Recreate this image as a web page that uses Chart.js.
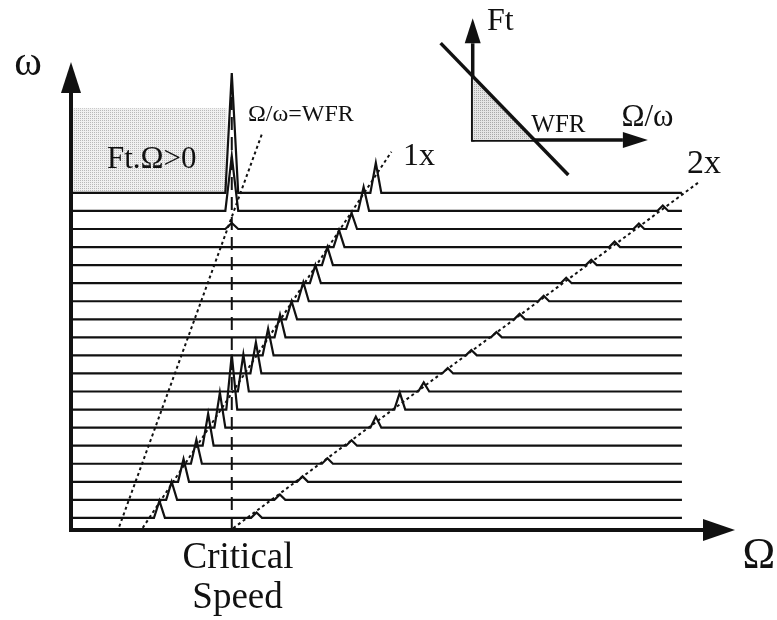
<!DOCTYPE html>
<html>
<head>
<meta charset="utf-8">
<script src="https://cdn.jsdelivr.net/npm/chart.js@4.4.0/dist/chart.umd.min.js"></script>
<style>
  body { margin: 0; background: #fff; }
  #wrap { position: relative; width: 777px; height: 620px; }
  #main { position: absolute; left: 0; top: 0; }
  #inset { position: absolute; left: 400px; top: 0; }
</style>
</head>
<body>
<div id="wrap">
  <canvas id="main" width="777" height="620"></canvas>
  <canvas id="inset" width="280" height="200"></canvas>
</div>
<script>
// rows of the cascade (omega steps), bottom to top
var rows = [1, 2, 3, 4, 5, 6, 7, 8, 9, 10, 11, 12, 13, 14, 15, 16, 17, 18, 19];
// 1x peak position (Omega, critical speed = 100) and amplitude, one per row
var peak1x = [55, 62.6, 70, 78, 85.3, 92.6, 100, 107.2, 115, 122.6, 130, 137.2, 144.5, 152, 159.5, 166.7, 174.5, 182, 189.6];
var amp1x  = [0.94, 1.0, 1.26, 1.33, 1.77, 1.94, 3.05, 2.05, 1.72, 1.48, 1.26, 1.0, 1.05, 1.0, 1.0, 0.94, 0.89, 1.33, 1.66];
// 2x peaks (last row has none inside the range)
var peak2x = [115.4, 129.9, 144, 159.5, 174.5, 189.6, 204.5, 219.4, 234.3, 249, 264.6, 279, 294, 308, 323.6, 338.1, 353.2, 368.1, null];
var amp2x  = [0.3, 0.3, 0.3, 0.3, 0.3, 0.61, 0.94, 0.5, 0.3, 0.3, 0.3, 0.3, 0.3, 0.3, 0.3, 0.3, 0.3, 0.3, 0];
// spike at the critical speed for the top rows (instability zone)
var criticalSpeed = 100;
var ampCrit = [0, 0, 0, 0, 0, 0, 0, 0, 0, 0, 0, 0, 0, 0, 0, 0, 0.33, 3.05, 6.64];
var omegaEnd = 380;

// guide lines [x0, y0, x1, y1]
var line1x  = [44.6, 0.45, 199.3, 21.28];
var lineWFR = [30.0, 0.52, 118.9, 22.3];
var line2x  = [100.9, 0.43, 390.9, 19.62];
var critTop = 24.7;
// shaded Ft.Omega>0 zone
var zoneX = [0.4, 96.8];
var zoneY = [19, 23.69];

// inset: Ft against Omega/omega
var insetRatio = [-0.52, 1.55];
var insetFt = [1.52, -0.55];
var wfr = 1;

function stipple(dark, light) {
  var c = document.createElement('canvas');
  c.width = 2; c.height = 2;
  var g = c.getContext('2d');
  g.fillStyle = light; g.fillRect(0, 0, 2, 2);
  g.fillStyle = dark; g.fillRect(0, 0, 1, 1);
  return g.createPattern(c, 'repeat');
}

function rowPoints(i) {
  var y = rows[i];
  var pk = [{ x: peak1x[i], a: amp1x[i], w: 3.4 }];
  if (peak2x[i] != null) pk.push({ x: peak2x[i], a: amp2x[i], w: 3.4 });
  if (ampCrit[i] > 0) pk.push({ x: criticalSpeed, a: ampCrit[i], w: 4 });
  pk.sort(function (a, b) { return a.x - b.x; });
  var pts = [{ x: 0, y: y }];
  pk.forEach(function (p) {
    pts.push({ x: p.x - p.w, y: y });
    pts.push({ x: p.x, y: y + p.a });
    pts.push({ x: p.x + p.w, y: y });
  });
  pts.push({ x: omegaEnd, y: y });
  return pts;
}

var ink = '#111';
var datasets = [];
rows.forEach(function (r, i) {
  datasets.push({ data: rowPoints(i), borderColor: ink, borderWidth: 2.2, order: 1 });
});
function guide(l, dash) {
  return { data: [{ x: l[0], y: l[1] }, { x: l[2], y: l[3] }], borderColor: ink, borderWidth: 2, borderDash: dash, order: 2 };
}
datasets.push(guide(line1x, [3, 3]));
datasets.push(guide(lineWFR, [3, 3]));
datasets.push(guide(line2x, [3, 3]));
datasets.push(guide([criticalSpeed, 0.33, criticalSpeed, critTop], [13, 7]));
datasets.push({
  data: [{ x: zoneX[0], y: zoneY[1] }, { x: zoneX[1], y: zoneY[1] }],
  borderWidth: 0, borderColor: 'rgba(0,0,0,0)',
  backgroundColor: stipple('#b8b8b8', '#f0f0f0'),
  fill: { value: zoneY[0] }, order: 5
});

var labels = [
  { t: '\u03c9', x: -26.7, y: 25.53, s: 42, a: 'center' },
  { t: '\u03a9', x: 427.9, y: -1.77, s: 44, a: 'center' },
  { t: 'Critical', x: 103.9, y: -1.77, s: 37, a: 'center' },
  { t: 'Speed', x: 103.6, y: -3.98, s: 37, a: 'center' },
  { t: 'Ft.\u03a9>0', x: 50.2, y: 20.38, s: 31, a: 'center' },
  { t: '\u03a9/\u03c9=WFR', x: 110.1, y: 23.0, s: 24, a: 'left' },
  { t: '1x', x: 206.5, y: 20.55, s: 32, a: 'left' },
  { t: '2x', x: 383.2, y: 20.1, s: 34, a: 'left' }
];

function arrow(ctx, x0, y0, x1, y1, w, len, half) {
  var ang = Math.atan2(y1 - y0, x1 - x0);
  var bx = x1 - Math.cos(ang) * len, by = y1 - Math.sin(ang) * len;
  ctx.beginPath();
  ctx.lineWidth = w;
  ctx.moveTo(x0, y0);
  ctx.lineTo(bx, by);
  ctx.stroke();
  ctx.beginPath();
  ctx.moveTo(x1, y1);
  ctx.lineTo(bx + Math.sin(ang) * half, by - Math.cos(ang) * half);
  ctx.lineTo(bx - Math.sin(ang) * half, by + Math.cos(ang) * half);
  ctx.closePath();
  ctx.fill();
}

var mainDeco = {
  id: 'mainDeco',
  afterDatasetsDraw: function (chart) {
    var ctx = chart.ctx, xs = chart.scales.x, ys = chart.scales.y;
    ctx.save();
    ctx.strokeStyle = ink; ctx.fillStyle = ink;
    var ox = xs.getPixelForValue(xs.min), oy = ys.getPixelForValue(ys.min);
    arrow(ctx, ox, oy + 2, ox, ys.getPixelForValue(ys.max), 4, 31, 10);
    arrow(ctx, ox - 2, oy, xs.getPixelForValue(xs.max), oy, 4, 32, 11);
    ctx.textBaseline = 'alphabetic';
    labels.forEach(function (l) {
      ctx.font = l.s + 'px "Liberation Serif", "DejaVu Serif", serif';
      ctx.textAlign = l.a;
      ctx.fillText(l.t, xs.getPixelForValue(l.x), ys.getPixelForValue(l.y));
    });
    ctx.restore();
  }
};

new Chart(document.getElementById('main'), {
  type: 'line',
  data: { datasets: datasets },
  options: {
    responsive: false, animation: false,
    parsing: false,
    elements: { point: { radius: 0 }, line: { tension: 0, fill: false } },
    layout: { padding: { left: 71, right: 42, top: 62, bottom: 90 } },
    scales: {
      x: { type: 'linear', display: false, min: 0, max: 413 },
      y: { type: 'linear', display: false, min: 0.33, max: 26.25 }
    },
    plugins: { legend: { display: false }, tooltip: { enabled: false } }
  },
  plugins: [mainDeco]
});

var insetLabels = [
  { t: 'Ft', x: 0.23, y: 1.73, s: 32 },
  { t: '\u03a9/\u03c9', x: 2.41, y: 0.22, s: 31 },
  { t: 'WFR', x: 0.95, y: 0.13, s: 25 }
];

var insetDeco = {
  id: 'insetDeco',
  beforeDatasetsDraw: function (chart) {
    var ctx = chart.ctx, xs = chart.scales.x, ys = chart.scales.y;
    ctx.save();
    ctx.strokeStyle = ink; ctx.fillStyle = ink;
    var ox = xs.getPixelForValue(0), oy = ys.getPixelForValue(0);
    arrow(ctx, ox, oy + 1.5, ox, ys.getPixelForValue(ys.max), 3.5, 25, 8);
    arrow(ctx, ox - 1.5, oy, xs.getPixelForValue(xs.max), oy, 3.5, 25, 8);
    ctx.restore();
  },
  afterDatasetsDraw: function (chart) {
    var ctx = chart.ctx, xs = chart.scales.x, ys = chart.scales.y;
    ctx.save();
    ctx.fillStyle = ink;
    ctx.textAlign = 'left';
    insetLabels.forEach(function (l) {
      ctx.font = l.s + 'px "Liberation Serif", "DejaVu Serif", serif';
      ctx.fillText(l.t, xs.getPixelForValue(l.x), ys.getPixelForValue(l.y));
    });
    ctx.restore();
  }
};

new Chart(document.getElementById('inset'), {
  type: 'line',
  data: {
    datasets: [
      {
        data: [{ x: 0, y: wfr }, { x: wfr, y: 0 }],
        borderWidth: 0, borderColor: 'rgba(0,0,0,0)',
        backgroundColor: stipple('#a8a8a8', '#e4e4e4'),
        fill: 'origin', order: 2
      },
      {
        data: [{ x: insetRatio[0], y: insetFt[0] }, { x: insetRatio[1], y: insetFt[1] }],
        borderColor: ink, borderWidth: 3.5, order: 1
      }
    ]
  },
  options: {
    responsive: false, animation: false, parsing: false,
    elements: { point: { radius: 0 }, line: { tension: 0 } },
    layout: { padding: { left: 35.7, right: 32.1, top: 18.3, bottom: 21.8 } },
    scales: {
      x: { type: 'linear', display: false, min: -0.6, max: 2.84 },
      y: { type: 'linear', display: false, min: -0.6, max: 1.91 }
    },
    plugins: { legend: { display: false }, tooltip: { enabled: false } }
  },
  plugins: [insetDeco]
});
</script>
</body>
</html>
